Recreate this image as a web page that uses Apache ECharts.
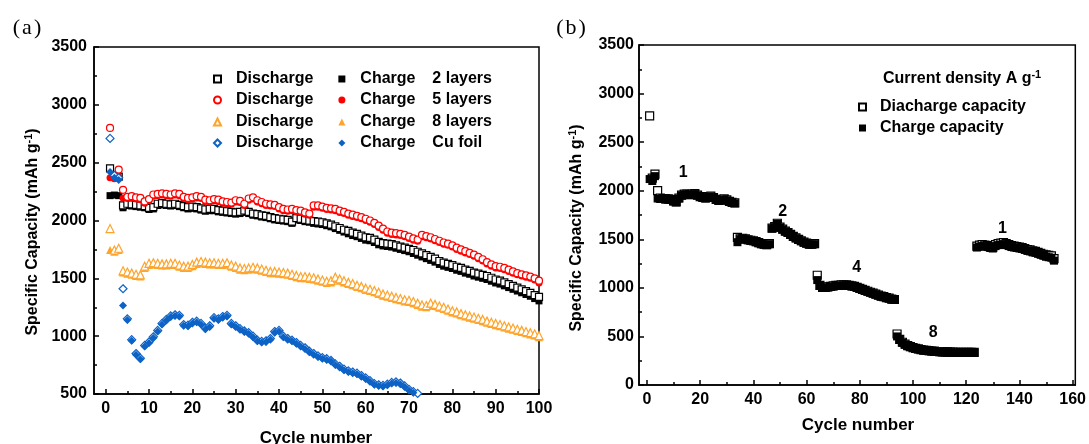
<!DOCTYPE html>
<html><head><meta charset="utf-8">
<script src="https://cdn.jsdelivr.net/npm/echarts@6/dist/echarts.min.js"></script>
<style>html,body{margin:0;padding:0;background:#fff}#c{width:1089px;height:444px}</style>
</head><body><div id="c"></div>
<script>
// ---------- Panel (a): cycling of 2/5/8 layers and Cu foil (cycle 1..N) ----------
const C2 = [2215,2220,2215,2110,2130,2125,2120,2115,2110,2095, 2100,2130,2135,2130,2125,2130,2120,2110,2100,2105, 2100,2090,2080,2085,2085,2075,2070,2065,2060,2055, 2060,2070,2060,2045,2040,2030,2025,2015,2005,2000, 1995,1990,1975,2005,2000,1990,1985,1975,1970,1965, 1955,1945,1930,1915,1900,1885,1870,1860,1845,1830, 1825,1810,1790,1780,1775,1770,1760,1750,1740,1730, 1715,1700,1685,1670,1655,1640,1620,1605,1595,1585, 1570,1560,1545,1535,1520,1510,1500,1490,1475,1460, 1450,1435,1420,1405,1390,1375,1360,1345,1325,1305];
const D2 = [2450,2390,2380,2130,2145,2140,2135,2130,2125,2110, 2115,2145,2150,2145,2140,2145,2135,2125,2115,2120, 2115,2105,2095,2100,2100,2090,2085,2080,2075,2070, 2075,2085,2075,2060,2055,2045,2040,2030,2020,2015, 2010,2005,1990,2020,2015,2005,2000,1995,1990,1985, 1975,1965,1950,1935,1920,1910,1895,1885,1870,1855, 1850,1835,1815,1805,1800,1795,1785,1775,1765,1755, 1745,1730,1715,1700,1685,1670,1650,1635,1625,1615, 1600,1590,1575,1565,1550,1540,1530,1520,1505,1490, 1480,1465,1450,1435,1420,1405,1390,1375,1355,1340];
const C5 = [2370,2360,2380,2195,2190,2195,2185,2180,2150,2170, 2210,2215,2220,2215,2210,2220,2215,2190,2180,2185, 2195,2190,2165,2160,2170,2165,2150,2145,2140,2160, 2155,2130,2175,2185,2160,2145,2130,2125,2120,2100, 2085,2080,2085,2075,2070,2055,2045,2115,2115,2105, 2095,2090,2085,2070,2060,2045,2035,2025,2015,2000, 1985,1965,1940,1915,1890,1880,1875,1870,1860,1845, 1830,1820,1860,1850,1840,1825,1810,1795,1785,1770, 1750,1735,1720,1705,1690,1670,1650,1625,1605,1590, 1585,1575,1560,1545,1530,1520,1510,1500,1485,1460];
const D5 = [2800,2380,2440,2265,2205,2210,2200,2195,2165,2185, 2225,2230,2235,2230,2225,2235,2230,2205,2195,2200, 2210,2205,2180,2175,2185,2180,2165,2160,2155,2175, 2170,2145,2190,2200,2175,2160,2145,2140,2135,2115, 2100,2095,2100,2090,2085,2070,2060,2130,2130,2120, 2110,2105,2100,2085,2075,2060,2050,2040,2030,2015, 2000,1980,1955,1930,1905,1895,1890,1885,1875,1860, 1845,1835,1875,1865,1855,1840,1825,1810,1800,1785, 1765,1750,1735,1720,1705,1685,1665,1640,1620,1605, 1600,1590,1575,1560,1545,1535,1525,1515,1500,1480];
const C8 = [1745,1730,1745,1550,1540,1530,1520,1515,1590,1615, 1620,1615,1610,1610,1615,1615,1600,1590,1590,1605, 1625,1630,1625,1620,1620,1615,1615,1620,1600,1590, 1575,1570,1575,1580,1575,1565,1555,1545,1545,1540, 1535,1530,1520,1510,1500,1500,1495,1490,1480,1470, 1460,1465,1495,1480,1465,1450,1440,1425,1415,1400, 1390,1380,1365,1350,1340,1330,1320,1310,1300,1295, 1285,1270,1255,1250,1270,1260,1245,1235,1220,1205, 1195,1180,1170,1160,1150,1140,1130,1115,1105,1095, 1085,1075,1065,1055,1045,1035,1025,1015,1005,990];
const D8 = [1930,1745,1760,1565,1555,1545,1535,1530,1605,1630, 1635,1630,1625,1625,1630,1630,1615,1605,1605,1620, 1640,1645,1640,1635,1635,1630,1630,1635,1615,1605, 1590,1585,1590,1595,1590,1580,1570,1560,1560,1555, 1550,1545,1535,1525,1515,1515,1510,1505,1495,1485, 1475,1480,1510,1495,1480,1465,1455,1440,1430,1415, 1405,1395,1380,1365,1355,1345,1335,1325,1315,1310, 1300,1285,1270,1265,1285,1275,1260,1250,1235,1220, 1210,1195,1185,1175,1165,1155,1145,1130,1120,1110, 1100,1090,1080,1070,1060,1050,1040,1030,1020,1005];
const CCU = [2420,2370,2350,1265,1140,960,840,800,910,940, 985,1040,1100,1135,1165,1175,1170,1090,1085,1110, 1120,1100,1060,1080,1150,1140,1160,1170,1100,1080, 1055,1035,1020,990,955,945,950,970,1030,1040, 990,970,955,935,910,890,860,840,820,805, 795,780,750,730,705,690,680,670,650,630, 605,580,570,565,575,590,595,585,560,530, 510,495,480];
const DCU = [2710,2390,2370,1410,1150,970,850,810,920,950, 995,1050,1110,1145,1175,1185,1180,1100,1095,1120, 1130,1110,1070,1090,1160,1150,1170,1180,1110,1090, 1065,1045,1030,1000,965,955,960,980,1040,1050, 1000,980,965,945,920,900,870,850,830,815, 805,790,760,740,715,700,690,680,660,640, 615,590,580,575,585,600,605,595,570,540, 520,505,490];

// ---------- Panel (b): rate performance (cycle 1..153) ----------
const CB = [2120,2100,2150,1920,1915,1915,1910,1910,1905,1890, 1880,1920,1950,1960,1960,1955,1960,1965,1950,1935, 1925,1920,1935,1940,1925,1905,1895,1900,1910,1900, 1885,1875,1870, 1470,1500,1505,1500,1490,1485,1480, 1470,1460,1450,1445,1440,1450,1610,1625,1660,1620, 1600,1580,1565,1545,1525,1510,1495,1480,1465,1455, 1445,1445,1450, 1080,1020,1000,1000,1005,1010,1015, 1020,1020,1025,1025,1025,1020,1015,1010,1000,990, 980,970,960,950,940,930,920,910,905,895, 890,880,875, 500,465,435,415,400,390,380, 372,366,360,355,352,348,345,343,340,338, 337,336,335,334,333,332,332,331,331,330, 330,330,330, 1415,1425,1430,1425,1420,1410,1405, 1430,1440,1445,1450,1440,1430,1420,1415,1410,1405, 1400,1390,1380,1375,1365,1360,1350,1340,1330,1320, 1315,1310,1280];
const DB = [2770,2130,2170,2000,1925,1920,1915,1915,1910,1895, 1885,1925,1955,1965,1965,1960,1965,1970,1955,1940, 1930,1925,1940,1945,1930,1910,1900,1905,1915,1905, 1890,1880,1875, 1520,1505,1510,1505,1495,1490,1485, 1475,1465,1455,1450,1445,1455,1615,1630,1665,1625, 1605,1585,1570,1550,1530,1515,1500,1485,1470,1460, 1450,1450,1455, 1130,1025,1005,1005,1010,1015,1020, 1025,1025,1030,1030,1030,1025,1020,1015,1005,995, 985,975,965,955,945,935,925,915,910,900, 895,885,880, 525,470,440,420,405,395,385, 377,371,365,360,357,353,350,348,345,343, 342,341,340,339,338,337,337,336,336,335, 335,335,335, 1430,1440,1445,1440,1435,1425,1420, 1445,1455,1460,1465,1455,1445,1435,1430,1425,1420, 1415,1405,1395,1390,1380,1375,1365,1355,1345,1340, 1335,1330,1300];

// tick labels
const XA_TICKS = [0,10,20,30,40,50,60,70,80,90,100];
const XA_MINOR = [5,15,25,35,45,55,65,75,85,95];
const XB_TICKS = [0,20,40,60,80,100,120,140,160];
const XB_MINOR = [10,30,50,70,90,110,130,150];
// current-density annotations in (b): [cycle, capacity, text]
const ANNOT_B = [[13.6,2190,'1'],[51,1780,'2'],[78.8,1205,'4'],[107.6,535,'8'],[133.6,1615,'1']];

const FONT = '"Liberation Sans", Arial, Helvetica, sans-serif';
const SERIF = '"Liberation Serif", "Times New Roman", serif';
const TXT = {fontFamily: FONT, fontWeight: 'bold', fontSize: 16, color: '#000'};
const BLACK='#000000', RED='#ff0000', ORANGE='#ffa42b', BLUE='#0d62c6';

function S(name, vals, xi, yi, symbol, size, color, open) {
  return {
    name, type: 'scatter', xAxisIndex: xi, yAxisIndex: yi, symbol, symbolSize: size,
    data: vals.map((v, i) => [i + 1, v]),
    itemStyle: open ? {color: '#fff', borderColor: color, borderWidth: 1.2, opacity: 1} : {color: color, borderWidth: 0, opacity: 1},
    emphasis: {disabled: true}, silent: true
  };
}

const lineSty = {color: '#000', width: 1.5};
const noComma = v => String(v);
function mainX(grid, min, max, ticks) {
  return {gridIndex: grid, type: 'value', min, max, position: 'bottom',
    axisLine: {show: true, onZero: false, lineStyle: lineSty},
    axisTick: {show: true, inside: true, length: 5, customValues: ticks, lineStyle: lineSty},
    axisLabel: Object.assign({customValues: ticks, margin: 7, formatter: noComma}, TXT),
    splitLine: {show: false}};
}
function minorX(grid, min, max, ticks) {
  return {gridIndex: grid, type: 'value', min, max, position: 'bottom',
    axisLine: {show: false, onZero: false},
    axisTick: {show: true, inside: true, length: 3, customValues: ticks, lineStyle: lineSty},
    axisLabel: {show: false}, splitLine: {show: false}};
}
function mainY(grid, min, max, margin) {
  return {gridIndex: grid, type: 'value', min, max, interval: 500,
    axisLine: {show: true, onZero: false, lineStyle: lineSty},
    axisTick: {show: true, inside: true, length: 5, lineStyle: lineSty},
    minorTick: {show: true, splitNumber: 2, length: 3, lineStyle: lineSty},
    axisLabel: Object.assign({margin: margin, formatter: noComma}, TXT),
    splitLine: {show: false}, minorSplitLine: {show: false}};
}

const legendFmt = function (name) {
  if (name.indexOf('Discharge') === 0) return '{d|Discharge}';
  return '{a|Charge}{b|' + name.slice(7) + '}';
};
const tok = {fontFamily: FONT, fontWeight: 'bold', fontSize: 16, color: '#000'};
const legTxt = Object.assign({}, TXT, {rich: {
  d: Object.assign({padding: [0, 0, 0, 10]}, tok),
  a: Object.assign({padding: [0, 0, 0, 10], width: 72}, tok),
  b: Object.assign({}, tok)}});
const rowsA = [['2 layers', 71], ['5 layers', 92], ['8 layers', 114], ['Cu foil', 135]];
const legendsA = rowsA.map(r => ({
  data: ['Discharge ' + r[0], 'Charge ' + r[0]], left: 213, top: r[1], orient: 'horizontal',
  itemWidth: 7, itemHeight: 7, itemGap: 25, padding: 0, selectedMode: false,
  formatter: legendFmt, textStyle: legTxt
}));

const chart = echarts.init(document.getElementById('c'), null, {renderer: 'canvas'});
chart.setOption({
  animation: false,
  backgroundColor: '#fff',
  grid: [
    {left: 94, top: 47, width: 445, height: 347, show: true, borderColor: '#000', borderWidth: 1.5, backgroundColor: 'transparent'},
    {left: 639, top: 45, width: 437, height: 340, show: true, borderColor: '#000', borderWidth: 1.5, backgroundColor: 'transparent'},
    {left: 94, top: 47, width: 445, height: 347},
    {left: 639, top: 45, width: 437, height: 340}
  ],
  xAxis: [
    mainX(0, -2.7, 100, XA_TICKS),
    mainX(1, -3, 161, XB_TICKS),
    minorX(2, -2.7, 100, XA_MINOR),
    minorX(3, -3, 161, XB_MINOR)
  ],
  yAxis: [
    mainY(0, 500, 3500, 7),
    mainY(1, 0, 3500, 5),
    {gridIndex: 2, type: 'value', show: false},
    {gridIndex: 3, type: 'value', show: false}
  ],
  title: [{
    text: 'Current density A g{sup|-1}', left: 883, top: 69, padding: 0,
    textStyle: Object.assign({}, TXT, {rich: {sup: {fontFamily: FONT, fontWeight: 'bold', fontSize: 11, color: '#000', verticalAlign: 'top', padding: [0, 0, 8, 0]}}})
  }],
  legend: legendsA.concat([{
    data: ['Diacharge capacity', 'Charge capacity'], orient: 'vertical', left: 858, top: 99,
    itemWidth: 7, itemHeight: 7, itemGap: 5, padding: 0, selectedMode: false,
    textStyle: Object.assign({}, TXT, {rich: {t: Object.assign({padding: [0, 0, 0, 9]}, tok)}}),
    formatter: n => '{t|' + n + '}'
  }]),
  graphic: [
    {type: 'text', x: 27, y: 28, style: {text: '{p|(}{m|a}{p|)}', align: 'center', verticalAlign: 'middle',
      rich: {p: {fontFamily: SERIF, fontSize: 22, fill: '#000'},
             m: {fontFamily: SERIF, fontSize: 22, fill: '#000', padding: [0, 2, 0, 2]}}}},
    {type: 'text', x: 571, y: 28, style: {text: '{p|(}{m|b}{p|)}', align: 'center', verticalAlign: 'middle',
      rich: {p: {fontFamily: SERIF, fontSize: 22, fill: '#000'},
             m: {fontFamily: SERIF, fontSize: 22, fill: '#000', padding: [0, 2, 0, 2]}}}},
    {type: 'text', x: 33, y: 232, rotation: Math.PI / 2, style: {text: 'Specific Capacity (mAh g{sup|-1})', align: 'center', verticalAlign: 'middle',
      fontFamily: FONT, fontWeight: 'bold', fontSize: 16, fill: '#000',
      rich: {sup: {fontFamily: FONT, fontWeight: 'bold', fontSize: 11, fill: '#000', verticalAlign: 'top', padding: [0, 0, 8, 0]}}}},
    {type: 'text', x: 577, y: 228, rotation: Math.PI / 2, style: {text: 'Specific Capacity (mAh g{sup|-1})', align: 'center', verticalAlign: 'middle',
      fontFamily: FONT, fontWeight: 'bold', fontSize: 16, fill: '#000',
      rich: {sup: {fontFamily: FONT, fontWeight: 'bold', fontSize: 11, fill: '#000', verticalAlign: 'top', padding: [0, 0, 8, 0]}}}},
    {type: 'text', x: 316, y: 438, style: {text: 'Cycle number', align: 'center', verticalAlign: 'middle', fontFamily: FONT, fontWeight: 'bold', fontSize: 17, fill: '#000'}},
    {type: 'text', x: 858, y: 425, style: {text: 'Cycle number', align: 'center', verticalAlign: 'middle', fontFamily: FONT, fontWeight: 'bold', fontSize: 17, fill: '#000'}}
  ],
  series: [
    S('Charge 2 layers', C2, 0, 0, 'rect', 7, BLACK, false),
    S('Discharge 2 layers', D2, 0, 0, 'rect', 7, BLACK, true),
    S('Charge 5 layers', C5, 0, 0, 'circle', 7, RED, false),
    S('Discharge 5 layers', D5, 0, 0, 'circle', 7, RED, true),
    S('Charge 8 layers', C8, 0, 0, 'triangle', 8, ORANGE, false),
    S('Discharge 8 layers', D8, 0, 0, 'triangle', 8, ORANGE, true),
    S('Discharge Cu foil', DCU, 0, 0, 'diamond', 8, BLUE, true),
    S('Charge Cu foil', CCU, 0, 0, 'diamond', 8, BLUE, false),
    S('Diacharge capacity', DB, 1, 1, 'rect', 8, BLACK, true),
    S('Charge capacity', CB, 1, 1, 'rect', 8, BLACK, false),
    {type: 'scatter', xAxisIndex: 1, yAxisIndex: 1, symbolSize: 0, silent: true,
     itemStyle: {opacity: 1},
     data: ANNOT_B.map(a => ({value: [a[0], a[1]], name: a[2]})),
     label: Object.assign({show: true, formatter: '{b}', position: 'inside', textBorderWidth: 0, opacity: 1}, TXT)}
  ]
});
</script></body></html>
